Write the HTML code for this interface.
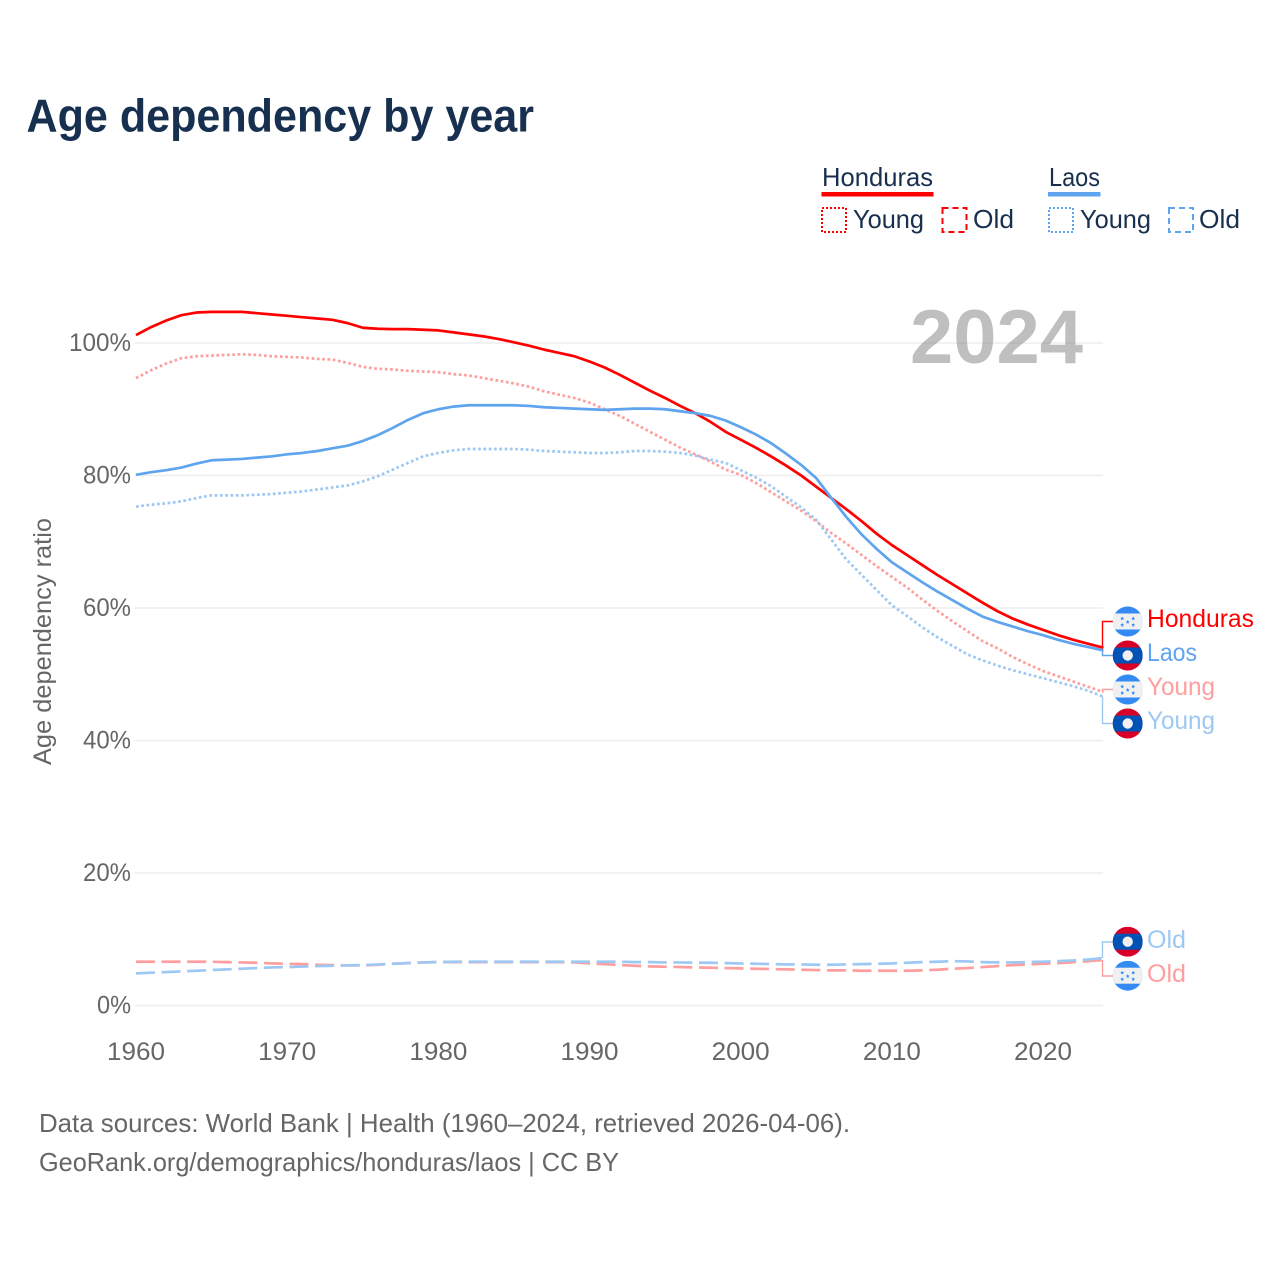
<!DOCTYPE html>
<html lang="en">
<head>
<meta charset="utf-8">
<title>Age dependency by year</title>
<style>
html,body{margin:0;padding:0;background:#fff;}
svg{display:block;}
text{font-family:"Liberation Sans",sans-serif;}
</style>
</head>
<body>
<svg id="chart" xmlns="http://www.w3.org/2000/svg" width="1280" height="1280" viewBox="0 0 1280 1280">
  <defs>
    <clipPath id="flag-clip"><circle cx="0" cy="0" r="15"/></clipPath>
    <polygon id="star" points="0,-2 0.6,-0.7 2,-0.6 0.9,0.3 1.2,1.7 0,1 -1.2,1.7 -0.9,0.3 -2,-0.6 -0.6,-0.7"/>
    <g id="flag-hn" clip-path="url(#flag-clip)">
      <rect x="-15" y="-15" width="30" height="30" fill="#338af3"/>
      <rect x="-15" y="-8" width="30" height="16" fill="#f0f0f0"/>
      <g fill="#338af3">
        <use href="#star" x="0" y="0.5"/>
        <use href="#star" x="-5.5" y="-3"/>
        <use href="#star" x="5.5" y="-3"/>
        <use href="#star" x="-5.5" y="3.5"/>
        <use href="#star" x="5.5" y="3.5"/>
      </g>
    </g>
    <g id="flag-la" clip-path="url(#flag-clip)">
      <rect x="-15" y="-15" width="30" height="30" fill="#d80027"/>
      <rect x="-15" y="-8" width="30" height="16" fill="#0052b4"/>
      <circle cx="0" cy="0" r="5.2" fill="#f0f0f0"/>
    </g>
  </defs>

  <text x="26.5" y="131.5" font-size="46" font-weight="700" fill="#17304f" textLength="507.5" lengthAdjust="spacingAndGlyphs">Age dependency by year</text>

  <g font-size="26" fill="#17304f">
    <g>
      <text x="822" y="186" textLength="111" lengthAdjust="spacingAndGlyphs">Honduras</text>
      <rect x="821.5" y="192" width="112" height="4.5" fill="#ff0000"/>
      <rect x="822" y="208" width="24" height="24" fill="none" stroke="#ff0000" stroke-width="2" stroke-dasharray="2 2"/>
      <text x="853" y="228" textLength="71" lengthAdjust="spacingAndGlyphs">Young</text>
      <rect x="942.5" y="208" width="24" height="24" fill="none" stroke="#ff0000" stroke-width="2" stroke-dasharray="6 4"/>
      <text x="973" y="228" textLength="41" lengthAdjust="spacingAndGlyphs">Old</text>
    </g>
    <g>
      <text x="1049" y="186" textLength="51" lengthAdjust="spacingAndGlyphs">Laos</text>
      <rect x="1048" y="192" width="52.5" height="4.5" fill="#5ea4ee"/>
      <rect x="1049" y="208" width="24" height="24" fill="none" stroke="#5ea4ee" stroke-width="2" stroke-dasharray="2 2"/>
      <text x="1080" y="228" textLength="71" lengthAdjust="spacingAndGlyphs">Young</text>
      <rect x="1169" y="208" width="24" height="24" fill="none" stroke="#5ea4ee" stroke-width="2" stroke-dasharray="6 4"/>
      <text x="1199" y="228" textLength="41" lengthAdjust="spacingAndGlyphs">Old</text>
    </g>
  </g>

  <g id="grid"></g>
  <text x="910" y="363" font-size="76" font-weight="700" fill="#808080" fill-opacity="0.5" textLength="173" lengthAdjust="spacingAndGlyphs">2024</text>
  <g id="y-ticks"></g>
  <g id="x-ticks"></g>
  <text transform="translate(51,765) rotate(-90)" x="0" y="0" font-size="25" fill="#666666" textLength="247" lengthAdjust="spacingAndGlyphs">Age dependency ratio</text>

  <g id="series"></g>
  <g id="connectors"></g>

  <g font-size="25">
    <use href="#flag-hn" x="1127.7" y="621.5"/>
    <text x="1147" y="627" fill="#ff0000" textLength="107" lengthAdjust="spacingAndGlyphs">Honduras</text>
    <use href="#flag-la" x="1127.7" y="655.5"/>
    <text x="1147" y="661" fill="#5ea4ee" textLength="50" lengthAdjust="spacingAndGlyphs">Laos</text>
    <use href="#flag-hn" x="1127.7" y="689.5"/>
    <text x="1147" y="695" fill="#ff9e9e" textLength="68" lengthAdjust="spacingAndGlyphs">Young</text>
    <use href="#flag-la" x="1127.7" y="723.5"/>
    <text x="1147" y="729" fill="#9ec8f4" textLength="68" lengthAdjust="spacingAndGlyphs">Young</text>
    <use href="#flag-la" x="1127.7" y="941.7"/>
    <text x="1147" y="948" fill="#9ec8f4" textLength="39" lengthAdjust="spacingAndGlyphs">Old</text>
    <use href="#flag-hn" x="1127.7" y="975.7"/>
    <text x="1147" y="982" fill="#ff9e9e" textLength="39" lengthAdjust="spacingAndGlyphs">Old</text>
  </g>

  <g font-size="26" fill="#666666">
    <text x="39" y="1132" textLength="811" lengthAdjust="spacingAndGlyphs">Data sources: World Bank | Health (1960–2024, retrieved 2026-04-06).</text>
    <text x="39" y="1171" textLength="580" lengthAdjust="spacingAndGlyphs">GeoRank.org/demographics/honduras/laos | CC BY</text>
  </g>
</svg>

<script>
const startYear = 1960;
const endYear = 2024;
const yTickValues = [0, 20, 40, 60, 80, 100];
const xTickValues = [1960, 1970, 1980, 1990, 2000, 2010, 2020];

const hondurasTotal = [
  101.2,102.4,103.4,104.2,104.6,104.7,104.7,104.7,104.5,104.3,
  104.1,103.9,103.7,103.5,103.0,102.3,102.15,102.1,102.1,102.0,
  101.9,101.6,101.3,101.0,100.6,100.1,99.6,99.0,98.5,98.0,
  97.2,96.3,95.2,94.0,92.8,91.7,90.5,89.4,88.1,86.6,
  85.4,84.2,82.9,81.5,80.0,78.3,76.6,74.9,73.1,71.2,
  69.5,68.0,66.5,65.0,63.6,62.2,60.8,59.5,58.4,57.5,
  56.7,55.9,55.2,54.6,54.0
];
const laosTotal = [
  80.1,80.5,80.8,81.2,81.8,82.3,82.4,82.5,82.7,82.9,
  83.2,83.4,83.7,84.1,84.5,85.2,86.1,87.2,88.4,89.4,
  90.0,90.4,90.6,90.6,90.6,90.6,90.5,90.3,90.2,90.1,
  90.0,89.9,90.0,90.1,90.1,90.0,89.7,89.4,89.0,88.3,
  87.3,86.2,84.9,83.3,81.6,79.6,76.6,73.7,71.1,68.9,
  66.9,65.4,63.9,62.5,61.2,59.9,58.7,57.9,57.2,56.5,
  55.9,55.2,54.6,54.1,53.6
];
const hondurasYoung = [
  94.7,95.9,96.9,97.7,98.0,98.1,98.2,98.3,98.2,98.0,
  97.9,97.8,97.6,97.5,97.0,96.4,96.1,96.0,95.8,95.7,
  95.6,95.3,95.1,94.7,94.3,93.9,93.4,92.7,92.2,91.7,
  91.0,90.0,89.0,87.8,86.6,85.4,84.2,83.2,82.1,80.9,
  80.1,78.9,77.5,76.1,74.7,73.1,71.3,69.7,68.0,66.3,
  64.7,63.1,61.3,59.6,58.0,56.5,55.0,53.9,52.6,51.5,
  50.5,49.7,48.9,48.1,47.3
];
const laosYoung = [
  75.3,75.6,75.8,76.1,76.6,77.0,77.0,77.0,77.1,77.2,
  77.4,77.6,77.9,78.2,78.5,79.1,79.9,80.9,81.9,82.9,
  83.4,83.8,84.0,84.0,84.0,84.0,83.9,83.7,83.6,83.5,
  83.4,83.4,83.5,83.7,83.7,83.6,83.4,83.0,82.4,81.9,
  80.8,79.7,78.4,76.8,75.2,73.3,70.3,67.3,65.0,62.7,
  60.4,58.8,57.1,55.6,54.3,53.0,52.1,51.3,50.6,50.0,
  49.4,48.8,48.2,47.5,46.6
];
const hondurasOld = [
  6.6,6.6,6.6,6.6,6.6,6.6,6.55,6.5,6.45,6.35,
  6.3,6.25,6.15,6.1,6.05,6.05,6.15,6.3,6.4,6.5,
  6.55,6.55,6.55,6.55,6.55,6.55,6.55,6.55,6.55,6.5,
  6.35,6.25,6.1,6.0,5.9,5.85,5.8,5.75,5.7,5.65,
  5.6,5.55,5.5,5.45,5.4,5.35,5.3,5.3,5.25,5.25,
  5.25,5.25,5.3,5.4,5.55,5.65,5.8,5.95,6.1,6.2,
  6.3,6.4,6.55,6.7,6.87
];
const laosOld = [
  4.85,4.95,5.05,5.15,5.25,5.35,5.45,5.55,5.65,5.75,
  5.8,5.88,5.95,6.0,6.05,6.1,6.2,6.3,6.4,6.5,
  6.55,6.6,6.6,6.6,6.6,6.6,6.6,6.6,6.6,6.6,
  6.6,6.6,6.6,6.55,6.55,6.5,6.5,6.45,6.45,6.4,
  6.35,6.3,6.25,6.2,6.2,6.15,6.15,6.2,6.25,6.3,
  6.35,6.45,6.55,6.6,6.7,6.65,6.55,6.5,6.5,6.55,
  6.6,6.7,6.8,6.95,7.17
];

const NS = 'http://www.w3.org/2000/svg';
function xScale(year) { return 136 + (year - startYear) * 15.117; }
function yScale(v) { return 1005.5 - v * 6.625; }
function make(tag, attrs, parent) {
  const el = document.createElementNS(NS, tag);
  for (const k in attrs) el.setAttribute(k, attrs[k]);
  parent.appendChild(el);
  return el;
}

const gridG = document.getElementById('grid');
const yG = document.getElementById('y-ticks');
yTickValues.forEach(function (v) {
  const line = make('line', { x1: 135, x2: 1103, y1: yScale(v), y2: yScale(v), stroke: '#ededed', 'stroke-width': 1.6 }, gridG);
  
  
  const label = v + '%';
  const w = label.length === 4 ? 62 : (label.length === 3 ? 48 : 34);
  const t = make('text', { x: 131 - w, y: yScale(v) + 8, 'font-size': 25, fill: '#666666', textLength: w, lengthAdjust: 'spacingAndGlyphs' }, yG);
  t.textContent = label;
  
  
});

const xG = document.getElementById('x-ticks');
xTickValues.forEach(function (yr) {
  const t = make('text', { x: xScale(yr) - 29, y: 1060, 'font-size': 25, fill: '#666666', textLength: 58, lengthAdjust: 'spacingAndGlyphs' }, xG);
  t.textContent = String(yr);
  
  
});

function linePath(values) {
  return values.map(function (v, i) {
    return (i ? 'L' : 'M') + xScale(startYear + i).toFixed(2) + ' ' + yScale(v).toFixed(2);
  }).join('');
}

const seriesG = document.getElementById('series');
function drawSeries(name, values, color, dash) {
  const attrs = { d: linePath(values), fill: 'none', stroke: color, 'stroke-width': 2.7, 'stroke-linejoin': 'round' };
  if (dash) attrs['stroke-dasharray'] = dash;
  const p = make('path', attrs, seriesG);
  
  
}
drawSeries('line-honduras-young', hondurasYoung, '#ff9e9e', '2.7 2.6');
drawSeries('line-laos-young', laosYoung, '#9ec8f4', '2.7 2.6');
drawSeries('line-honduras-old', hondurasOld, '#ff9e9e', '19 6.6');
drawSeries('line-laos-old', laosOld, '#9ec8f4', '19 6.6');
drawSeries('line-honduras-total', hondurasTotal, '#ff0000', null);
drawSeries('line-laos-total', laosTotal, '#5ea4ee', null);

const connG = document.getElementById('connectors');
function connector(name, values, targetY, color) {
  const last = values[values.length - 1];
  const d = 'M1102.5 ' + yScale(last).toFixed(1) + 'L1102.5 ' + targetY + 'L1113 ' + targetY;
  const p = make('path', { d: d, fill: 'none', stroke: color, 'stroke-width': 1.4 }, connG);
  
  
}
connector('connector-honduras', hondurasTotal, 621.5, '#ff0000');
connector('connector-laos', laosTotal, 655.5, '#5ea4ee');
connector('connector-honduras-young', hondurasYoung, 689.5, '#ff9e9e');
connector('connector-laos-young', laosYoung, 723.5, '#9ec8f4');
connector('connector-laos-old', laosOld, 942, '#9ec8f4');
connector('connector-honduras-old', hondurasOld, 976, '#ff9e9e');
</script>
</body>
</html>
